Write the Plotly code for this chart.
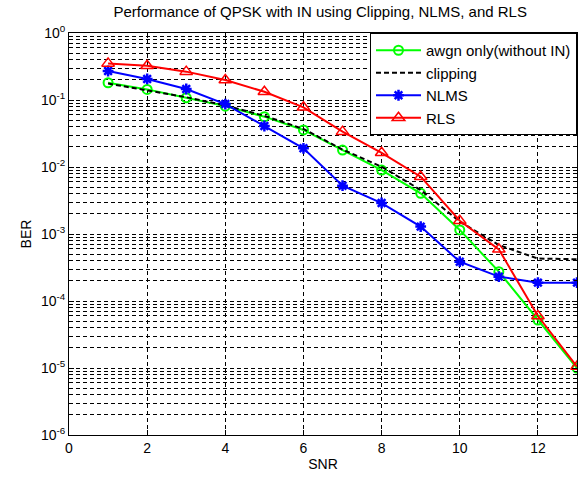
import plotly.graph_objects as go

snr = [1, 2, 3, 4, 5, 6, 7, 8, 9, 10, 11, 12, 13]
ber_awgn = [0.181, 0.144, 0.108, 0.081, 0.0564, 0.0357, 0.0179, 0.0090, 0.00405, 0.00115, 2.74e-4, 5.2e-5, 1.0e-5]
ber_clip = [0.176, 0.140, 0.110, 0.083, 0.058, 0.037, 0.0182, 0.0101, 0.00454, 0.00153, 6.85e-4, 4.3e-4, 4.2e-4]
ber_nlms = [0.271, 0.206, 0.146, 0.087, 0.0409, 0.0190, 0.00526, 0.00290, 0.00129, 3.86e-4, 2.31e-4, 1.88e-4, 1.88e-4]
ber_rls = [0.352, 0.325, 0.265, 0.199, 0.133, 0.0778, 0.0337, 0.0163, 0.00717, 0.00158, 5.9e-4, 5.97e-5, 1.05e-5]

title_text = "Performance of QPSK with IN using Clipping, NLMS, and RLS"
x_ticks = [0, 2, 4, 6, 8, 10, 12]
y_exps = [0, -1, -2, -3, -4, -5, -6]

FONT = "Liberation Sans, Arial, sans-serif"

fig = go.Figure()
fig.add_trace(go.Scatter(x=snr, y=ber_awgn, name="awgn only(without IN)", mode="lines+markers",
                         line=dict(color="#00ff00", width=2),
                         marker=dict(symbol="circle-open", size=9, line=dict(width=2, color="#00ff00"))))
fig.add_trace(go.Scatter(x=snr, y=ber_clip, name="clipping", mode="lines",
                         line=dict(color="black", width=2, dash="5px,3px")))
fig.add_trace(go.Scatter(x=snr, y=ber_nlms, name="NLMS", mode="lines+markers",
                         line=dict(color="#0000ff", width=2),
                         marker=dict(symbol="asterisk-open", size=9, line=dict(width=2.5, color="#0000ff"))))
fig.add_trace(go.Scatter(x=snr, y=ber_rls, name="RLS", mode="lines+markers",
                         line=dict(color="#ff0000", width=2),
                         marker=dict(symbol="triangle-up-open", size=11, line=dict(width=1.5, color="#ff0000"))))

minor_vals = []
for e in range(-6, 0):
    for m in range(2, 10):
        minor_vals.append(m * 10 ** e)

grid_dash = "4px,3px"
fig.update_layout(
    width=579, height=477,
    margin=dict(l=69, r=2, t=33, b=42),
    paper_bgcolor="white", plot_bgcolor="white",
    font=dict(family=FONT, size=12, color="black"),
    title=dict(text=title_text, x=0.553, xanchor="center", y=0.975, yanchor="middle",
               font=dict(family=FONT, size=15, color="black")),
    showlegend=True,
    legend=dict(x=1, y=1, xanchor="right", yanchor="top", bgcolor="white",
                bordercolor="black", borderwidth=1, itemwidth=45,
                font=dict(family=FONT, size=15, color="black"), tracegroupgap=0),
    xaxis=dict(range=[0, 13], tickvals=x_ticks, ticks="inside", ticklen=5, tickcolor="black",
               showline=True, linecolor="black", linewidth=1, mirror="allticks",
               showgrid=True, gridcolor="black", gridwidth=1, griddash=grid_dash,
               zeroline=False, title=dict(text="SNR", font=dict(size=14), standoff=4),
               tickfont=dict(size=14)),
    yaxis=dict(type="log", range=[-6, 0],
               tickvals=[10.0 ** e for e in y_exps],
               ticktext=["10<sup>%d</sup>" % e for e in y_exps],
               ticks="inside", ticklen=5, tickcolor="black",
               showline=True, linecolor="black", linewidth=1, mirror="allticks",
               showgrid=True, gridcolor="black", gridwidth=1, griddash=grid_dash,
               zeroline=False, title=dict(text="BER", font=dict(size=14), standoff=6),
               tickfont=dict(size=14),
               minor=dict(tickvals=minor_vals, showgrid=True, gridcolor="black", gridwidth=1,
                          griddash=grid_dash, ticks="inside", ticklen=3, tickcolor="black")),
)

fig.write_html("out.html", config={"displayModeBar": False},
               post_script="document.body.style.margin='0';document.body.style.overflow='hidden';")
